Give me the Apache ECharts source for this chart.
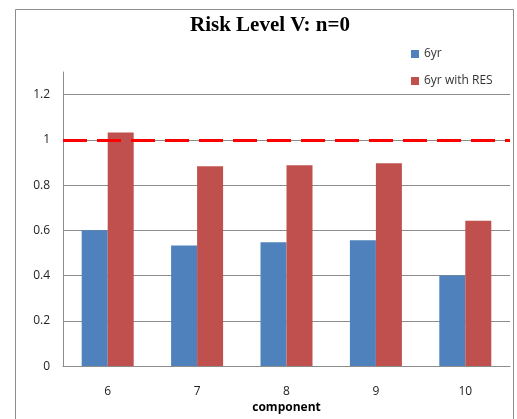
<!DOCTYPE html>
<html><head><meta charset="utf-8">
<script src="https://cdn.jsdelivr.net/npm/echarts@6/dist/echarts.min.js"></script>
<style>html,body{margin:0;padding:0;background:#fff}#c{width:517px;height:419px}</style>
</head><body><div id="c"></div>
<script>
const categories = ['6', '7', '8', '9', '10'];
const series6yr = [0.60, 0.533, 0.547, 0.556, 0.40];
const series6yrRES = [1.033, 0.883, 0.888, 0.897, 0.643];
const thresholdValue = 1;
const yTicks = [0, 0.2, 0.4, 0.6, 0.8, 1, 1.2];

const chart = echarts.init(document.getElementById('c'), null, {renderer: 'canvas'});
chart.setOption({
  animation: false,
  backgroundColor: '#fff',
  graphic: [{
    type: 'rect', left: 13, top: 7, shape: {width: 498, height: 430},
    style: {fill: 'none', stroke: '#8c8c8c', lineWidth: 1}, z: -1
  }],
  title: {
    text: 'Risk Level V: n=0', left: 185, top: 10,
    textStyle: {fontFamily: 'Liberation Serif', fontWeight: 'bold', fontSize: 21, color: '#000'}
  },
  legend: {
    orient: 'vertical', left: 406, top: 43, itemWidth: 8, itemHeight: 8, itemGap: 15,
    icon: 'rect',
    textStyle: {fontFamily: 'Open Sans', fontSize: 12, color: '#333'},
    data: ['6yr', '6yr with RES']
  },
  grid: {left: 63, top: 72, right: 7, bottom: 47},
  xAxis: {
    type: 'category', data: categories,
    name: 'component', nameLocation: 'middle', nameGap: 35,
    nameTextStyle: {fontFamily: 'Open Sans', fontWeight: 'bold', fontSize: 12, color: '#000'},
    axisLine: {lineStyle: {color: '#8c8c8c'}},
    axisTick: {show: false},
    axisLabel: {fontFamily: 'Open Sans', fontSize: 12, color: '#222', margin: 19}
  },
  yAxis: {
    type: 'value', min: 0, max: 1.3, interval: 0.2,
    axisLine: {show: true, lineStyle: {color: '#8c8c8c'}},
    axisTick: {show: false},
    axisLabel: {fontFamily: 'Open Sans', fontSize: 12, color: '#222', margin: 13, showMaxLabel: false,
      formatter: v => yTicks.indexOf(Math.round(v*10)/10) >= 0 ? String(Math.round(v*10)/10) : ''},
    splitLine: {lineStyle: {color: ['#8c8c8c','#8c8c8c','#8c8c8c','#8c8c8c','#8c8c8c','#8c8c8c','#8c8c8c','rgba(0,0,0,0)']}}
  },
  series: [
    {name: '6yr', type: 'bar', data: series6yr, barWidth: 26, barGap: '0%', itemStyle: {color: '#4F81BD'}},
    {name: '6yr with RES', type: 'bar', data: series6yrRES, barWidth: 26, barGap: '0%', itemStyle: {color: '#C0504D'},
      markLine: {
        symbol: 'none', silent: true, label: {show: false},
        lineStyle: {color: '#ff0000', width: 3, type: [24, 10]},
        data: [{yAxis: thresholdValue}]
      }}
  ]
});
</script></body></html>
